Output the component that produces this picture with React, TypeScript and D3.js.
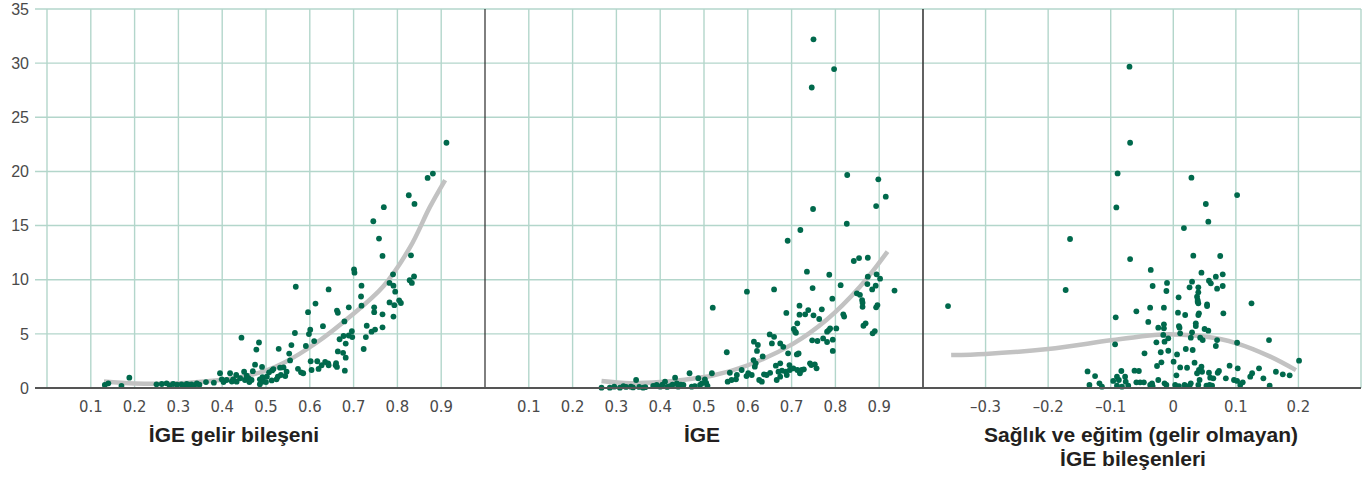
import React from "react";
import * as d3 from "d3";

type Pt = [number, number];

// y-axis ticks (shared)
const yTicks = [0, 5, 10, 15, 20, 25, 30, 35];

// x tick labels per panel
const incomeTicks = [0.1, 0.2, 0.3, 0.4, 0.5, 0.6, 0.7, 0.8, 0.9];
const hdiTicks = [0.1, 0.2, 0.3, 0.4, 0.5, 0.6, 0.7, 0.8, 0.9];
const nonIncomeTicks = [-0.3, -0.2, -0.1, 0, 0.1, 0.2];

// axis titles
const incomeTitle = ["İGE gelir bileşeni"];
const hdiTitle = ["İGE"];
const nonIncomeTitle = ["Sağlık ve eğitim (gelir olmayan)", "İGE bileşenleri"];

// Panel 1: IGE income component
const incomeDots: Pt[] = [
  [0.132, 0.28], [0.14, 0.43], [0.17, 0.2], [0.188, 0.95],
  [0.25, 0.34], [0.262, 0.37], [0.273, 0.43], [0.28, 0.25], [0.288, 0.37], [0.297, 0.3], [0.307, 0.34], [0.313, 0.25],
  [0.319, 0.37], [0.325, 0.3], [0.33, 0.34], [0.336, 0.22], [0.342, 0.43], [0.348, 0.3],
  [0.363, 0.55], [0.381, 0.49], [0.395, 1.36], [0.399, 0.8], [0.403, 0.55], [0.41, 0.74], [0.418, 1.36], [0.422, 0.6],
  [0.425, 0.8], [0.432, 1.2], [0.433, 0.58], [0.441, 0.9], [0.444, 4.65], [0.45, 1.5], [0.452, 0.74], [0.456, 1.14],
  [0.46, 0.9], [0.462, 0.55], [0.467, 0.74], [0.47, 1.55], [0.475, 2.15], [0.478, 3.55], [0.484, 4.2], [0.486, 0.8],
  [0.486, 0.35], [0.49, 0.74], [0.491, 1.95], [0.494, 0.6], [0.492, 1.0], [0.5, 0.55],
  [0.502, 1.05], [0.507, 1.45], [0.514, 1.62], [0.517, 1.75], [0.513, 0.7], [0.524, 0.8], [0.527, 1.05], [0.529, 3.62],
  [0.532, 1.88], [0.534, 1.2], [0.54, 1.9], [0.544, 1.1], [0.547, 1.5], [0.553, 3.18], [0.555, 2.55], [0.558, 3.96],
  [0.566, 5.08], [0.568, 9.35], [0.573, 1.77], [0.58, 1.45], [0.585, 1.36], [0.591, 3.88], [0.596, 7.0], [0.598, 4.98],
  [0.601, 5.38], [0.602, 2.47], [0.604, 1.66], [0.61, 4.33], [0.613, 7.8], [0.617, 2.47], [0.62, 1.76], [0.627, 2.1],
  [0.63, 5.71], [0.635, 2.4], [0.642, 2.28], [0.643, 2.1], [0.643, 9.1], [0.659, 2.1], [0.66, 2.3], [0.662, 1.95],
  [0.662, 7.15], [0.664, 6.95], [0.664, 3.38], [0.668, 4.5], [0.676, 3.25], [0.677, 4.8], [0.679, 6.15], [0.68, 1.6],
  [0.682, 4.1], [0.682, 2.8], [0.689, 7.45], [0.689, 4.85], [0.696, 5.25], [0.697, 4.7], [0.701, 10.95], [0.702, 10.65],
  [0.717, 8.45], [0.718, 9.45], [0.718, 7.6], [0.723, 3.6], [0.728, 4.7], [0.73, 5.75], [0.741, 5.2], [0.745, 15.4],
  [0.747, 7.45], [0.747, 7.0], [0.749, 5.4], [0.758, 13.8], [0.766, 12.2], [0.766, 6.8], [0.766, 5.6], [0.769, 16.7],
  [0.782, 9.7], [0.782, 7.9], [0.79, 10.5], [0.791, 9.45], [0.791, 6.6], [0.793, 7.65], [0.795, 8.9], [0.804, 8.1],
  [0.808, 7.85], [0.826, 17.8], [0.828, 9.95], [0.831, 12.25], [0.833, 9.7], [0.838, 10.3], [0.839, 17.0], [0.869, 19.4],
  [0.881, 19.8], [0.912, 22.65],
];

// Panel 2: IGE (HDI)
const hdiDots: Pt[] = [
  [0.266, 0.03], [0.285, 0.03], [0.295, 0.12], [0.308, 0.03], [0.316, 0.18], [0.322, 0.1], [0.333, 0.12], [0.338, 0.05],
  [0.345, 0.74], [0.352, 0.1], [0.361, 0.03], [0.366, 0.08], [0.384, 0.2], [0.392, 0.28], [0.4, 0.12], [0.405, 0.3],
  [0.411, 0.58], [0.416, 0.1], [0.422, 0.18], [0.428, 0.3], [0.434, 0.95], [0.438, 0.43], [0.441, 0.12], [0.447, 0.3],
  [0.453, 0.28], [0.467, 1.36], [0.472, 0.12], [0.479, 0.18], [0.487, 0.9], [0.491, 0.28], [0.495, 0.43], [0.502, 0.8],
  [0.505, 0.46], [0.508, 0.2], [0.518, 1.36], [0.52, 7.42],
  [0.552, 3.3], [0.554, 0.58], [0.559, 1.41], [0.563, 0.74], [0.573, 0.8], [0.575, 1.2], [0.586, 1.66], [0.597, 1.1],
  [0.598, 8.9], [0.601, 1.36], [0.609, 1.2], [0.613, 2.58], [0.614, 4.28], [0.616, 1.97], [0.618, 2.28], [0.621, 3.42],
  [0.623, 3.97], [0.626, 0.74], [0.632, 0.58], [0.634, 2.92], [0.637, 1.26], [0.643, 1.2], [0.65, 4.95], [0.651, 1.4],
  [0.655, 4.12], [0.66, 4.73], [0.66, 9.1], [0.664, 2.06], [0.666, 0.74], [0.67, 1.5], [0.674, 2.28], [0.674, 1.05],
  [0.674, 4.12], [0.678, 1.6], [0.681, 3.8], [0.687, 1.5], [0.688, 6.93], [0.689, 1.2], [0.691, 13.6], [0.692, 3.2],
  [0.695, 2.12], [0.696, 1.66], [0.704, 1.82], [0.705, 5.45], [0.708, 5.2], [0.71, 5.1], [0.712, 3.1], [0.713, 5.97],
  [0.713, 1.66], [0.716, 3.19], [0.718, 7.6], [0.718, 6.77], [0.719, 1.36], [0.72, 14.59], [0.723, 1.66], [0.728, 1.72],
  [0.731, 6.8], [0.735, 10.74], [0.738, 7.2], [0.742, 2.28], [0.745, 2.12], [0.746, 27.75], [0.747, 4.4], [0.748, 9.23],
  [0.749, 16.53], [0.75, 32.2], [0.75, 6.71], [0.753, 2.19], [0.757, 1.82], [0.759, 4.34], [0.763, 6.37], [0.769, 7.27],
  [0.772, 4.58], [0.781, 4.25], [0.781, 5.2], [0.785, 5.35], [0.788, 5.5], [0.786, 10.46], [0.793, 8.25], [0.794, 4.46],
  [0.794, 3.42], [0.797, 29.45], [0.802, 5.5], [0.812, 9.5], [0.818, 6.8], [0.82, 6.6], [0.826, 15.17], [0.827, 19.67],
  [0.842, 11.73], [0.849, 8.74], [0.854, 12.0], [0.856, 8.6], [0.861, 8.12], [0.862, 7.88], [0.862, 7.5], [0.864, 5.75],
  [0.869, 5.97], [0.873, 9.6], [0.874, 12.03], [0.874, 10.28], [0.884, 9.1], [0.885, 5.05], [0.89, 5.26], [0.892, 9.45],
  [0.893, 16.8], [0.893, 7.45], [0.894, 10.5], [0.896, 7.66], [0.898, 19.27], [0.902, 10.1], [0.915, 17.67], [0.935, 9.0],
];

// Panel 3: health & education (non-income) IGE components
const nonIncomeDots: Pt[] = [
  [-0.36, 7.57], [-0.172, 9.05], [-0.165, 13.76],
  [-0.137, 1.53], [-0.134, 0.28], [-0.125, 1.1], [-0.118, 0.43], [-0.114, 0.12],
  [-0.096, 0.65], [-0.093, 4.03], [-0.092, 6.53], [-0.091, 16.68], [-0.09, 1.05], [-0.089, 19.82], [-0.09, 0.21],
  [-0.087, 0.74], [-0.083, 1.57], [-0.082, 0.12], [-0.077, 1.05], [-0.076, 0.58], [-0.072, 0.21], [-0.07, 29.67],
  [-0.069, 22.65], [-0.069, 11.91],
  [-0.062, 1.6], [-0.059, 7.08], [-0.059, 0.52], [-0.055, 1.57], [-0.053, 0.52], [-0.047, 0.52], [-0.046, 3.2],
  [-0.04, 6.1], [-0.037, 7.42], [-0.037, 0.28], [-0.036, 10.9], [-0.034, 0.43], [-0.033, 9.42], [-0.033, 0.18],
  [-0.027, 4.22], [-0.026, 2.03], [-0.024, 5.57], [-0.024, 0.74], [-0.02, 3.3], [-0.019, 2.37], [-0.016, 4.9],
  [-0.015, 7.42], [-0.015, 5.88], [-0.015, 5.51], [-0.014, 4.28], [-0.014, 0.43], [-0.011, 8.96], [-0.011, 0.28],
  [-0.01, 9.7], [-0.008, 4.59], [-0.008, 3.44],
  [0.0005, 2.43], [0.003, 0.28], [0.005, 1.17], [0.006, 3.1], [0.0075, 6.96], [0.0085, 8.37], [0.009, 5.72], [0.009, 0.18],
  [0.01, 5.57], [0.011, 5.05], [0.011, 1.9], [0.017, 14.77], [0.018, 0.28], [0.019, 6.74], [0.02, 3.6], [0.022, 1.87],
  [0.026, 9.3], [0.026, 0.21], [0.028, 4.65], [0.028, 0.43], [0.029, 19.42], [0.03, 9.82], [0.03, 5.14], [0.031, 3.51],
  [0.032, 12.22], [0.034, 2.34], [0.036, 5.97], [0.036, 5.72], [0.038, 8.43], [0.039, 8.12], [0.039, 7.97], [0.04, 9.3],
  [0.04, 8.84], [0.04, 7.82], [0.04, 6.74], [0.041, 6.9], [0.04, 0.28], [0.042, 0.74], [0.038, 1.36], [0.041, 1.66],
  [0.045, 1.97], [0.046, 1.5], [0.045, 10.65], [0.043, 4.65], [0.047, 4.43], [0.05, 5.45], [0.052, 16.99], [0.053, 0.21],
  [0.054, 7.72], [0.054, 7.57], [0.056, 15.36], [0.056, 5.29], [0.057, 9.91], [0.057, 1.41], [0.058, 0.28], [0.059, 0.95],
  [0.06, 9.67], [0.062, 0.21], [0.064, 0.89], [0.068, 10.28], [0.068, 3.88], [0.07, 9.17], [0.07, 4.43], [0.071, 1.41],
  [0.073, 1.57], [0.075, 12.19], [0.079, 10.5], [0.079, 9.42], [0.08, 6.9], [0.084, 0.89], [0.09, 2.06], [0.097, 0.74],
  [0.102, 17.82], [0.102, 4.18], [0.102, 0.65], [0.103, 1.82], [0.107, 0.28], [0.111, 0.52], [0.123, 1.05],
  [0.125, 7.82], [0.126, 1.36], [0.137, 1.82], [0.144, 0.89], [0.153, 4.43], [0.154, 0.21], [0.164, 1.5], [0.175, 1.26],
  [0.186, 1.17], [0.201, 2.52],
];

// Fitted trend curves
const incomeCurve: Pt[] = [
  [0.13, 0.6], [0.2, 0.42], [0.29, 0.42], [0.36, 0.6], [0.44, 1.0], [0.5, 1.6], [0.54, 2.3], [0.616, 4.2],
  [0.692, 6.6], [0.768, 9.4], [0.829, 13.0], [0.874, 16.7], [0.909, 19.2],
];
const hdiCurve: Pt[] = [
  [0.266, 0.65], [0.33, 0.45], [0.4, 0.55], [0.45, 0.75], [0.52, 1.15], [0.6, 2.1], [0.704, 4.1], [0.78, 6.3],
  [0.856, 9.35], [0.919, 12.6],
];
const nonIncomeCurve: Pt[] = [
  [-0.355, 3.05], [-0.3, 3.15], [-0.2, 3.6], [-0.1, 4.4], [-0.03, 4.9], [0, 4.95], [0.05, 4.75], [0.1, 4.15],
  [0.155, 2.9], [0.196, 1.65],
];

const W = 1370;
const H = 477;
const TOP = 9;
const BOTTOM = 388;
const LEFT = 35;
const RIGHT = 1361;

const GRID = "#b3d6cb";
const DOT = "#00694c";
const CURVE = "#c2c2c2";
const TICK_FILL = "#4a4a4a";
const TITLE_FILL = "#231f20";

const y = d3.scaleLinear().domain([0, 35]).range([BOTTOM, TOP]);

const fmt = (v: number) => (v < 0 ? "–" + String(Math.abs(v)) : String(v));

type PanelProps = {
  x: d3.ScaleLinear<number, number>;
  ticks: number[];
  grid: number[];
  dots: Pt[];
  curve: Pt[];
  title: string[];
  titleX: number[];
};

function Panel({ x, ticks, grid, dots, curve, title, titleX }: PanelProps) {
  const line = d3
    .line<Pt>()
    .x((d) => x(d[0]))
    .y((d) => y(d[1]))
    .curve(d3.curveCatmullRom.alpha(0.5));
  return (
    <g>
      {grid.map((g) => (
        <line key={"g" + g} x1={x(g)} x2={x(g)} y1={TOP} y2={BOTTOM} stroke={GRID} strokeWidth={1.4} />
      ))}
      <path d={line(curve) || ""} fill="none" stroke={CURVE} strokeWidth={4.5} />
      {dots.map((d, i) => (
        <circle key={i} cx={x(d[0])} cy={y(d[1])} r={2.9} fill={DOT} />
      ))}
      {ticks.map((t) => (
        <text
          key={"t" + t}
          x={x(t)}
          y={412}
          textAnchor="middle"
          fontSize={16.5}
          fill={TICK_FILL}
          fontFamily="'Liberation Sans Narrow', 'DejaVu Sans Condensed', sans-serif"
        >
          {fmt(t)}
        </text>
      ))}
      {title.map((s, i) => (
        <text
          key={"ti" + i}
          x={titleX[i]}
          y={442 + i * 24}
          textAnchor="middle"
          fontSize={21}
          fontWeight="bold"
          fill={TITLE_FILL}
          fontFamily="'Liberation Sans', Arial, sans-serif"
        >
          {s}
        </text>
      ))}
    </g>
  );
}

export default function App() {
  const x1 = d3.scaleLinear().domain([0, 1]).range([47, 485]);
  const x2 = d3.scaleLinear().domain([0, 1]).range([485, 923]);
  const x3 = d3.scaleLinear().domain([-0.4, 0.3]).range([923, 1361]);

  return (
    <svg
      width={W}
      height={H}
      style={{ position: "absolute", left: 0, top: 0, background: "#fff" }}
    >
      {yTicks.map((t) => (
        <line key={"h" + t} x1={LEFT} x2={RIGHT} y1={y(t)} y2={y(t)} stroke={GRID} strokeWidth={1.4} />
      ))}
      {yTicks.map((t) => (
        <text
          key={"yl" + t}
          x={29}
          y={y(t)}
          dy="0.36em"
          textAnchor="end"
          fontSize={16}
          fill={TICK_FILL}
          fontFamily="'Liberation Sans', Arial, sans-serif"
        >
          {t}
        </text>
      ))}
      <Panel x={x1} ticks={incomeTicks} grid={[0, ...incomeTicks]} dots={incomeDots} curve={incomeCurve} title={incomeTitle} titleX={[234]} />
      <Panel x={x2} ticks={hdiTicks} grid={hdiTicks} dots={hdiDots} curve={hdiCurve} title={hdiTitle} titleX={[702]} />
      <Panel x={x3} ticks={nonIncomeTicks} grid={[...nonIncomeTicks, 0.3]} dots={nonIncomeDots} curve={nonIncomeCurve} title={nonIncomeTitle} titleX={[1141, 1133]} />
      <line x1={x2(0)} x2={x2(0)} y1={TOP} y2={BOTTOM} stroke="#2a2a2a" strokeWidth={1.2} />
      <line x1={x3(-0.4)} x2={x3(-0.4)} y1={TOP} y2={BOTTOM} stroke="#3a3a3a" strokeWidth={1.6} />
      <line x1={LEFT} x2={RIGHT} y1={BOTTOM} y2={BOTTOM} stroke="#555" strokeWidth={2} />
    </svg>
  );
}
